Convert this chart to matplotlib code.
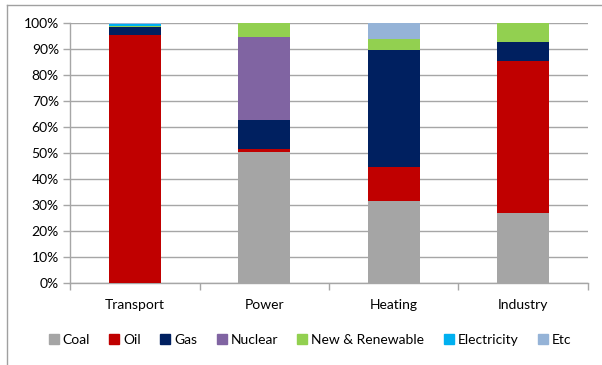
import matplotlib

matplotlib.use("Agg")
import matplotlib.pyplot as plt
import numpy as np
from matplotlib.lines import Line2D
from matplotlib.ticker import PercentFormatter

plt.rcParams["font.family"] = ["Lato", "DejaVu Sans"]

categories = ["Transport", "Power", "Heating", "Industry"]
coal = [0.0, 50.3, 31.5, 27.2]
oil = [95.3, 1.3, 13.1, 58.2]
gas = [3.0, 11.2, 45.1, 7.2]
nuclear = [0.0, 32.0, 0.0, 0.0]
renewable = [0.6, 5.2, 4.2, 7.4]
electricity = [0.7, 0.0, 0.0, 0.0]
etc = [0.4, 0.0, 6.1, 0.0]

series = [
    ("Coal", coal, "#a5a5a5"),
    ("Oil", oil, "#c00000"),
    ("Gas", gas, "#002060"),
    ("Nuclear", nuclear, "#8064a2"),
    ("New & Renewable", renewable, "#92d050"),
    ("Electricity", electricity, "#00b0f0"),
    ("Etc", etc, "#95b3d7"),
]

fig = plt.figure(figsize=(6.02, 3.65), dpi=100)
ax = fig.add_axes([0.1163, 0.2233, 0.8604, 0.7137])

x = np.arange(len(categories))
bottom = np.zeros(len(categories))
for name, vals, color in series:
    ax.bar(x, vals, width=0.4, bottom=bottom, color=color, label=name, zorder=3)
    bottom += np.array(vals)

ax.set_xlim(-0.5, len(categories) - 0.5)
ax.set_ylim(0, 100)
ax.set_yticks(np.arange(0, 101, 10))
ax.yaxis.set_major_formatter(PercentFormatter(decimals=0))
ax.grid(axis="y", color="#a6a6a6", linewidth=1.0, zorder=0)

ax.set_xticks(x)
ax.set_xticklabels(categories)
ax.set_xticks(np.arange(-0.5, len(categories)), minor=True)
ax.tick_params(axis="x", which="major", length=0, pad=11, labelsize=10)
ax.tick_params(axis="x", which="minor", length=5, color="#a6a6a6", width=1)
ax.tick_params(axis="y", length=5, color="#a6a6a6", width=1, labelsize=10, pad=3)

for side in ["top", "right"]:
    ax.spines[side].set_visible(False)
for side in ["left", "bottom"]:
    ax.spines[side].set_color("#a6a6a6")
    ax.spines[side].set_linewidth(1.0)

handles = [
    Line2D([], [], marker="s", linestyle="none", markersize=7,
           markerfacecolor=c, markeredgecolor=c, label=n)
    for n, _, c in series
]
fig.legend(handles=handles, loc="center", bbox_to_anchor=(0.515, 0.068),
           ncol=len(series), frameon=False, fontsize=10,
           handlelength=0.7, handletextpad=0.3, columnspacing=1.4)

# chart border (left and top edges visible in the crop)
fig.add_artist(Line2D([0.0116, 0.0116], [0, 0.986], transform=fig.transFigure,
                      color="#a0a0a0", linewidth=1.0))
fig.add_artist(Line2D([0.0116, 1.0], [0.986, 0.986], transform=fig.transFigure,
                      color="#a0a0a0", linewidth=1.0))

fig.savefig("out.png", dpi=100)
